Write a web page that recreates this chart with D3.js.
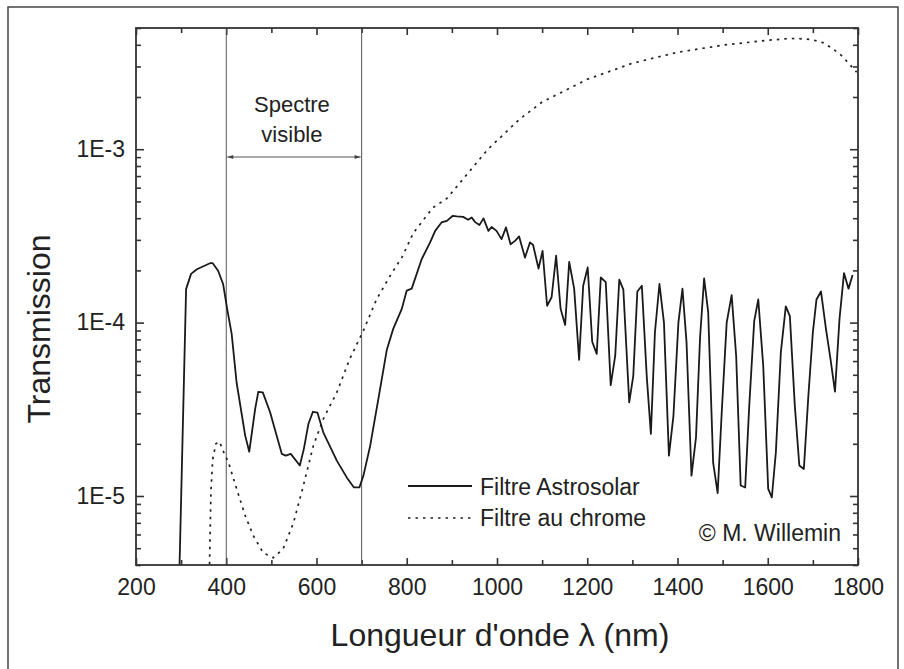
<!DOCTYPE html>
<html>
<head>
<meta charset="utf-8">
<script src="https://cdn.jsdelivr.net/npm/d3@7"></script>
<style>
  body { margin: 0; background: #fff; }
  text { font-family: "Liberation Sans", Arial, Helvetica, sans-serif; fill: #222; }
</style>
</head>
<body>
<svg id="chart" width="904" height="669"></svg>
<script>
// Filtre Astrosolar (nm, transmission)
const astroNm = [296, 311, 322, 335, 364, 370, 382, 393, 402, 412, 423, 442, 451, 464, 471, 481, 497, 523, 532, 543, 563, 572, 582, 592, 602, 615, 645, 667, 683, 695, 704, 719, 737, 756, 770, 789, 800, 811, 833, 852, 863, 877, 889, 902, 911, 925, 936, 944, 951, 961, 970, 981, 988, 999, 1010, 1020, 1030, 1040, 1049, 1062, 1073, 1080, 1092, 1101, 1111, 1121, 1131, 1141, 1151, 1160, 1171, 1182, 1191, 1201, 1211, 1221, 1230, 1241, 1252, 1262, 1271, 1280, 1293, 1302, 1311, 1321, 1332, 1341, 1350, 1360, 1370, 1381, 1391, 1402, 1411, 1420, 1431, 1441, 1450, 1459, 1468, 1479, 1489, 1498, 1509, 1520, 1530, 1540, 1550, 1559, 1570, 1579, 1590, 1601, 1609, 1618, 1629, 1640, 1649, 1660, 1670, 1680, 1690, 1700, 1708, 1718, 1729, 1739, 1749, 1759, 1769, 1779, 1788];
const astroT = [3.5e-6, 1.56e-4, 1.91e-4, 2.03e-4, 2.2e-4, 2.2e-4, 1.99e-4, 1.67e-4, 1.2e-4, 8.6e-5, 4.5e-5, 2.23e-5, 1.8e-5, 3.17e-5, 3.99e-5, 3.96e-5, 3.05e-5, 1.75e-5, 1.71e-5, 1.75e-5, 1.5e-5, 1.87e-5, 2.6e-5, 3.06e-5, 3.03e-5, 2.33e-5, 1.6e-5, 1.28e-5, 1.12e-5, 1.12e-5, 1.31e-5, 1.95e-5, 3.62e-5, 7.0e-5, 9.2e-5, 1.2e-4, 1.53e-4, 1.57e-4, 2.32e-4, 2.91e-4, 3.38e-4, 3.78e-4, 3.86e-4, 4.13e-4, 4.1e-4, 4.07e-4, 3.92e-4, 4.04e-4, 3.81e-4, 3.65e-4, 3.99e-4, 3.38e-4, 3.56e-4, 3.38e-4, 3.03e-4, 3.54e-4, 2.83e-4, 2.96e-4, 3.14e-4, 2.37e-4, 2.9e-4, 2.8e-4, 2.05e-4, 2.59e-4, 1.25e-4, 1.4e-4, 2.43e-4, 1.2e-4, 9.7e-5, 2.24e-4, 1.57e-4, 6.1e-5, 1.63e-4, 2.08e-4, 7.75e-5, 6.6e-5, 1.82e-4, 1.71e-4, 4.36e-5, 6.44e-5, 1.77e-4, 1.55e-4, 3.47e-5, 4.93e-5, 1.51e-4, 1.63e-4, 4.83e-5, 2.28e-5, 8.8e-5, 1.67e-4, 1.0e-4, 1.71e-5, 2.9e-5, 1.0e-4, 1.57e-4, 7.7e-5, 1.31e-5, 2.18e-5, 8.2e-5, 1.8e-4, 1.15e-4, 1.56e-5, 1.04e-5, 3.03e-5, 1.0e-4, 1.44e-4, 6.44e-5, 1.15e-5, 1.12e-5, 3.31e-5, 1.02e-4, 1.36e-4, 5.63e-5, 1.1e-5, 9.8e-6, 1.79e-5, 6.73e-5, 1.24e-4, 1.09e-4, 3.31e-5, 1.5e-5, 1.43e-5, 3.78e-5, 8.8e-5, 1.36e-4, 1.51e-4, 9.2e-5, 6.17e-5, 4.0e-5, 1.05e-4, 1.93e-4, 1.57e-4, 1.88e-4];

// Filtre au chrome (nm, transmission)
const chromeNm = [362, 366, 370, 377, 385, 393, 405, 423, 442, 460, 482, 504, 526, 549, 571, 593, 615, 645, 674, 704, 733, 763, 790, 815, 858, 889, 940, 980, 1050, 1100, 1200, 1300, 1400, 1500, 1600, 1650, 1680, 1700, 1722, 1744, 1763, 1781, 1797];
const chromeT = [3e-6, 1.05e-5, 1.63e-5, 2.0e-5, 2.06e-5, 1.82e-5, 1.56e-5, 1.1e-5, 7.7e-6, 5.9e-6, 4.7e-6, 4.4e-6, 4.95e-6, 7.0e-6, 1.15e-5, 1.95e-5, 2.78e-5, 3.96e-5, 6.2e-5, 9.0e-5, 1.36e-4, 1.86e-4, 2.4e-4, 3.3e-4, 4.6e-4, 5.2e-4, 7.5e-4, 1.0e-3, 1.49e-3, 1.87e-3, 2.53e-3, 3.13e-3, 3.62e-3, 3.98e-3, 4.25e-3, 4.35e-3, 4.33e-3, 4.27e-3, 4.12e-3, 3.8e-3, 3.48e-3, 3.09e-3, 2.78e-3];

const xTickValues = [200, 400, 600, 800, 1000, 1200, 1400, 1600, 1800];
const yTickValues = [1e-5, 1e-4, 1e-3];
const yTickLabels = ["1E-5", "1E-4", "1E-3"];
const visibleBand = [400, 700];

const svg = d3.select("#chart");
const marginLeft = 136, marginTop = 28;
const width = 722, height = 537;

// cadre extérieur
svg.append("rect")
  .attr("x", 8).attr("y", 7).attr("width", 890).attr("height", 700)
  .attr("fill", "none").attr("stroke", "#444").attr("stroke-width", 1.5);

const x = d3.scaleLinear().domain([200, 1800]).range([0, width]);
const y = d3.scaleLog().domain([4e-6, 5e-3]).range([height, 0]);

const g = svg.append("g").attr("transform", "translate(" + marginLeft + "," + marginTop + ")");

g.append("clipPath").attr("id", "clip")
  .append("rect").attr("width", width).attr("height", height);

// graduations
const minorX = d3.range(200, 1801, 100);
const minorY = [];
for (let e = -6; e <= -3; e++) {
  for (let m = 1; m <= 9; m++) {
    const v = m * Math.pow(10, e);
    if (v >= 4e-6 && v <= 5e-3) minorY.push(v);
  }
}
const isMajorX = (d) => xTickValues.includes(d);
const isMajorY = (d) => yTickValues.some((v) => Math.abs(v - d) / v < 1e-6);

function styleAxis(sel) {
  sel.select(".domain").remove();
  sel.selectAll("line").attr("stroke", "#333").attr("stroke-width", 1.6);
  sel.selectAll("text").attr("font-size", "23px").attr("fill", "#222")
    .attr("font-family", "Liberation Sans, Arial, sans-serif");
}

g.append("g")
  .attr("transform", "translate(0," + height + ")")
  .call(d3.axisBottom(x).tickValues(minorX).tickSizeOuter(0).tickSizeInner(0).tickPadding(14)
    .tickFormat((d) => (isMajorX(d) ? d : "")))
  .call(styleAxis)
  .selectAll(".tick line").attr("y2", (d) => (isMajorX(d) ? -7 : -5));

g.append("g")
  .call(d3.axisTop(x).tickValues(minorX).tickSizeOuter(0).tickFormat(""))
  .call(styleAxis)
  .selectAll(".tick line").attr("y2", (d) => (isMajorX(d) ? 7 : 5));

g.append("g")
  .call(d3.axisLeft(y).tickValues(minorY).tickSizeOuter(0).tickSizeInner(0).tickPadding(11)
    .tickFormat((d) => { const i = yTickValues.findIndex((v) => Math.abs(v - d) / v < 1e-6); return i >= 0 ? yTickLabels[i] : ""; }))
  .call(styleAxis)
  .selectAll(".tick line").attr("x2", (d) => (isMajorY(d) ? 8 : 5));

g.append("g")
  .attr("transform", "translate(" + width + ",0)")
  .call(d3.axisRight(y).tickValues(minorY).tickSizeOuter(0).tickFormat(""))
  .call(styleAxis)
  .selectAll(".tick line").attr("x2", (d) => (isMajorY(d) ? -8 : -5));

// bornes du spectre visible
g.selectAll(".vis")
  .data(visibleBand)
  .enter()
  .append("line")
  .attr("x1", (d) => x(d)).attr("x2", (d) => x(d))
  .attr("y1", 0).attr("y2", height)
  .attr("stroke", "#555").attr("stroke-width", 1);

const defs = svg.append("defs");
defs.append("marker").attr("id", "ah").attr("viewBox", "0 0 10 10")
  .attr("refX", 10).attr("refY", 5).attr("markerWidth", 8).attr("markerHeight", 6)
  .attr("markerUnits", "userSpaceOnUse").attr("orient", "auto-start-reverse")
  .append("path").attr("d", "M0,1.5L10,5L0,8.5Z").attr("fill", "#444");

g.append("line")
  .attr("x1", x(visibleBand[0]) + 1).attr("x2", x(visibleBand[1]) - 1)
  .attr("y1", 129).attr("y2", 129)
  .attr("stroke", "#555").attr("stroke-width", 1)
  .attr("marker-start", "url(#ah)").attr("marker-end", "url(#ah)");

g.append("text").attr("x", x(550) - 2).attr("y", 84)
  .attr("text-anchor", "middle").attr("font-size", "22px").text("Spectre");
g.append("text").attr("x", x(550) - 2).attr("y", 114)
  .attr("text-anchor", "middle").attr("font-size", "22px").text("visible");

// courbes
const line = d3.line().x((d) => x(d[0])).y((d) => y(d[1]));
const plot = g.append("g").attr("clip-path", "url(#clip)");

plot.append("path")
  .datum(chromeNm.map((d, i) => [d, chromeT[i]]))
  .attr("d", line)
  .attr("fill", "none").attr("stroke", "#222").attr("stroke-width", 1.7)
  .attr("stroke-dasharray", "2.5,5");

plot.append("path")
  .datum(astroNm.map((d, i) => [d, astroT[i]]))
  .attr("d", line)
  .attr("fill", "none").attr("stroke", "#1a1a1a").attr("stroke-width", 1.8)
  .attr("stroke-linejoin", "round");

// cadre du graphique
g.append("rect").attr("width", width).attr("height", height)
  .attr("fill", "none").attr("stroke", "#333").attr("stroke-width", 1.8);

// légende
svg.append("line").attr("x1", 408).attr("x2", 472).attr("y1", 486).attr("y2", 486)
  .attr("stroke", "#1a1a1a").attr("stroke-width", 1.8);
svg.append("text").attr("x", 480).attr("y", 495).attr("font-size", "23px").text("Filtre Astrosolar");
svg.append("line").attr("x1", 408).attr("x2", 472).attr("y1", 518).attr("y2", 518)
  .attr("stroke", "#222").attr("stroke-width", 1.7).attr("stroke-dasharray", "2.5,5");
svg.append("text").attr("x", 480).attr("y", 526).attr("font-size", "23px").text("Filtre au chrome");
svg.append("text").attr("x", 841).attr("y", 541).attr("text-anchor", "end")
  .attr("font-size", "23px").text("© M. Willemin");

// titres des axes
svg.append("text")
  .attr("transform", "translate(50," + 329 + ") rotate(-90)")
  .attr("text-anchor", "middle").attr("font-size", "32px").text("Transmission");
svg.append("text")
  .attr("x", 500).attr("y", 646)
  .attr("text-anchor", "middle").attr("font-size", "32px").text("Longueur d'onde λ (nm)");
</script>
</body>
</html>
